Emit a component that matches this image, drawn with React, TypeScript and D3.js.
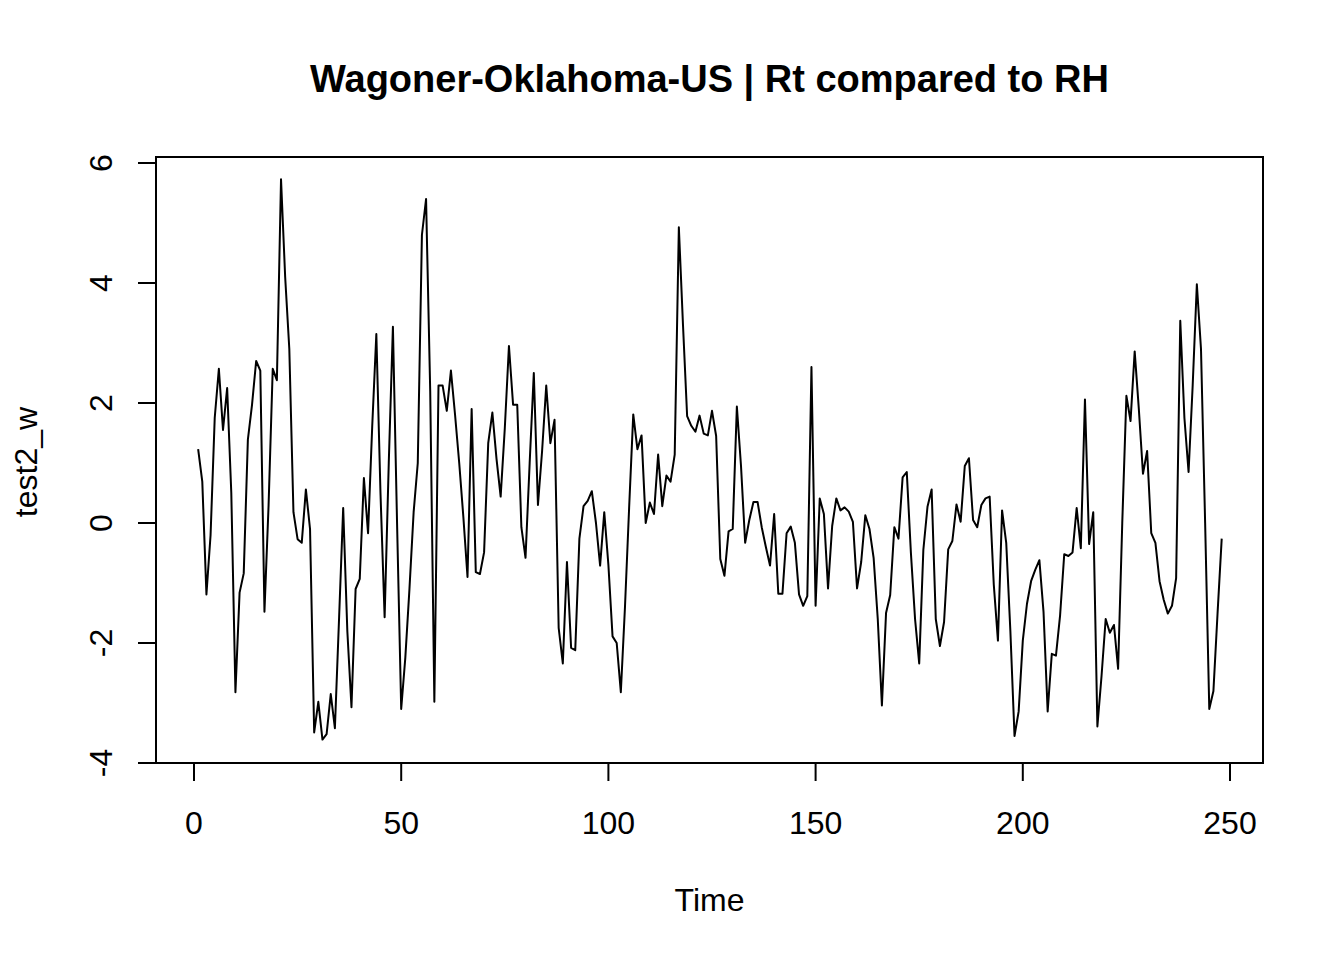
import { useRef, useEffect } from 'react';
import * as d3 from 'd3';

// series values, t = 1..248
const values: number[] = [
  1.23, 0.69, -1.19, -0.2, 1.75, 2.57, 1.55, 2.25, 0.5, -2.82,
  -1.16, -0.84, 1.39, 1.97, 2.7, 2.54, -1.48, 0.3, 2.57, 2.38,
  5.73, 4.1, 2.9, 0.18, -0.27, -0.33, 0.56, -0.1, -3.49, -2.98,
  -3.61, -3.52, -2.85, -3.42, -1.6, 0.25, -1.8, -3.07, -1.1, -0.93,
  0.75, -0.17, 1.6, 3.15, 0.5, -1.57, 1.0, 3.27, 0.0, -3.1,
  -2.24, -1.09, 0.18, 1.0, 4.8, 5.4, 2.2, -2.98, 2.29, 2.29,
  1.87, 2.54, 1.8, 1.0, 0.1, -0.9, 1.9, -0.82, -0.85, -0.49,
  1.33, 1.84, 1.07, 0.44, 1.58, 2.95, 1.97, 1.97, -0.07, -0.58,
  1.0, 2.5, 0.3, 1.2, 2.29, 1.33, 1.72, -1.75, -2.34, -0.65,
  -2.08, -2.12, -0.26, 0.28, 0.37, 0.53, 0.0, -0.71, 0.18, -0.7,
  -1.89, -2.0, -2.82, -1.4, 0.25, 1.81, 1.23, 1.46, 0.0, 0.34,
  0.15, 1.14, 0.28, 0.79, 0.69, 1.14, 4.93, 3.3, 1.78, 1.62,
  1.52, 1.79, 1.49, 1.46, 1.87, 1.45, -0.6, -0.88, -0.14, -0.1,
  1.94, 0.95, -0.33, 0.05, 0.35, 0.35, -0.07, -0.4, -0.71, 0.15,
  -1.18, -1.18, -0.17, -0.06, -0.33, -1.19, -1.38, -1.22, 2.6, -1.38,
  0.41, 0.15, -1.09, -0.05, 0.41, 0.21, 0.26, 0.19, 0.02, -1.09,
  -0.65, 0.13, -0.1, -0.58, -1.6, -3.04, -1.5, -1.2, -0.07, -0.26,
  0.76, 0.85, -0.5, -1.6, -2.34, -0.45, 0.27, 0.56, -1.6, -2.05,
  -1.65, -0.44, -0.3, 0.31, 0.02, 0.95, 1.08, 0.05, -0.07, 0.3,
  0.41, 0.44, -1.03, -1.96, 0.21, -0.33, -1.8, -3.55, -3.14, -1.96,
  -1.35, -0.97, -0.78, -0.62, -1.48, -3.14, -2.18, -2.21, -1.54, -0.52,
  -0.55, -0.49, 0.25, -0.42, 2.06, -0.35, 0.18, -3.39, -2.55, -1.6,
  -1.83, -1.7, -2.43, 0.0, 2.12, 1.7, 2.86, 1.9, 0.82, 1.2,
  -0.17, -0.33, -0.97, -1.28, -1.51, -1.38, -0.92, 3.37, 1.75, 0.85,
  2.3, 3.98, 2.9, 0.0, -3.1, -2.8, -1.5, -0.26,
];

const xTicks = [0, 50, 100, 150, 200, 250];
const yTicks = [-4, -2, 0, 2, 4, 6];

const TITLE = 'Wagoner-Oklahoma-US | Rt compared to RH';
const X_LABEL = 'Time';
const Y_LABEL = 'test2_w';

const W = 1344;
const H = 960;
const FONT = 'Liberation Sans, Arial, sans-serif';

export default function App() {
  const svgRef = useRef<SVGSVGElement>(null);

  useEffect(() => {
    if (!svgRef.current) return;
    const svg = d3.select(svgRef.current);
    svg.selectAll('*').remove();

    const box = { left: 156, right: 1263, top: 157, bottom: 763 };

    const x = d3.scaleLinear().domain([0, 250]).range([194, 1230]);
    const y = d3.scaleLinear().domain([-4, 6]).range([763, 163]);

    svg.append('rect').attr('width', W).attr('height', H).attr('fill', '#fff');

    // plot box
    svg
      .append('rect')
      .attr('x', box.left)
      .attr('y', box.top)
      .attr('width', box.right - box.left)
      .attr('height', box.bottom - box.top)
      .attr('fill', 'none')
      .attr('stroke', '#000')
      .attr('stroke-width', 2);

    // series
    const line = d3
      .line<number>()
      .x((_, i) => x(i + 1))
      .y((d) => y(d));

    svg
      .append('path')
      .datum(values)
      .attr('d', line)
      .attr('fill', 'none')
      .attr('stroke', '#000')
      .attr('stroke-width', 2)
      .attr('stroke-linejoin', 'round');

    // x axis
    const xAxis = svg.append('g');
    xAxis
      .append('line')
      .attr('x1', x(0))
      .attr('x2', x(250))
      .attr('y1', box.bottom)
      .attr('y2', box.bottom)
      .attr('stroke', '#000')
      .attr('stroke-width', 2);
    xTicks.forEach((t) => {
      xAxis
        .append('line')
        .attr('x1', x(t))
        .attr('x2', x(t))
        .attr('y1', box.bottom)
        .attr('y2', box.bottom + 18)
        .attr('stroke', '#000')
        .attr('stroke-width', 2);
      xAxis
        .append('text')
        .attr('x', x(t))
        .attr('y', 834)
        .attr('text-anchor', 'middle')
        .attr('font-family', FONT)
        .attr('font-size', 32)
        .text(t);
    });

    // y axis
    const yAxis = svg.append('g');
    yAxis
      .append('line')
      .attr('x1', box.left)
      .attr('x2', box.left)
      .attr('y1', y(-4))
      .attr('y2', y(6))
      .attr('stroke', '#000')
      .attr('stroke-width', 2);
    yTicks.forEach((t) => {
      yAxis
        .append('line')
        .attr('x1', box.left - 18)
        .attr('x2', box.left)
        .attr('y1', y(t))
        .attr('y2', y(t))
        .attr('stroke', '#000')
        .attr('stroke-width', 2);
      yAxis
        .append('text')
        .attr('transform', `translate(112,${y(t)}) rotate(-90)`)
        .attr('text-anchor', 'middle')
        .attr('font-family', FONT)
        .attr('font-size', 32)
        .text(t);
    });

    // labels
    svg
      .append('text')
      .attr('x', (box.left + box.right) / 2)
      .attr('y', 92)
      .attr('text-anchor', 'middle')
      .attr('font-family', FONT)
      .attr('font-weight', 'bold')
      .attr('font-size', 38)
      .text(TITLE);

    svg
      .append('text')
      .attr('x', (box.left + box.right) / 2)
      .attr('y', 911)
      .attr('text-anchor', 'middle')
      .attr('font-family', FONT)
      .attr('font-size', 32)
      .text(X_LABEL);

    svg
      .append('text')
      .attr('transform', `translate(37,462) rotate(-90)`)
      .attr('text-anchor', 'middle')
      .attr('font-family', FONT)
      .attr('font-size', 32)
      .text(Y_LABEL);
  }, []);

  return (
    <svg
      ref={svgRef}
      width={W}
      height={H}
      style={{ position: 'absolute', left: 0, top: 0 }}
    />
  );
}
